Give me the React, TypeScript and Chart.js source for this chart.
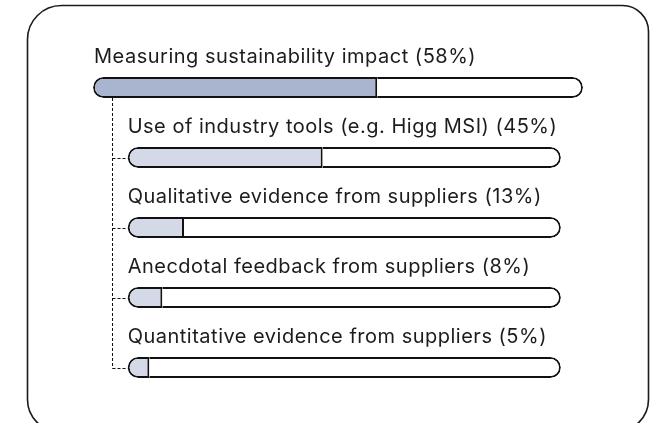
import React, { useEffect, useRef } from "react";
import { Chart, registerables } from "chart.js";

Chart.register(...registerables);

const categories: string[] = [
  "Measuring sustainability impact",
  "Use of industry tools (e.g. Higg MSI)",
  "Qualitative evidence from suppliers",
  "Anecdotal feedback from suppliers",
  "Quantitative evidence from suppliers",
];
const values: number[] = [58, 45, 13, 8, 5];
const isParent: boolean[] = [true, false, false, false, false];

const MAIN_FILL = "#a9b5cf";
const SUB_FILL = "#d3d9e6";
const INK = "#1c1c1c";
const FONT = '20px Inter, "Noto Sans", sans-serif';

const cardPlugin = {
  id: "card",
  beforeDraw(chart: any) {
    const ctx = chart.ctx;
    ctx.save();
    ctx.fillStyle = "#ffffff";
    ctx.fillRect(0, 0, chart.width, chart.height);
    ctx.beginPath();
    (ctx as any).roundRect(27.5, 5.5, 621, 426, [34, 26, 32, 32]);
    ctx.lineWidth = 1.6;
    ctx.strokeStyle = "#1a1a1a";
    ctx.stroke();
    ctx.restore();
  },
};

const treePlugin = {
  id: "tree",
  beforeDatasetsDraw(chart: any) {
    const ctx = chart.ctx;
    const y = chart.scales.y;
    const xm = chart.scales.x;
    const xs = chart.scales.xs;
    const half = 10.5;
    const trunkX = Math.round(xm.getPixelForValue(0) + 19) + 0.5;
    const subStart = xs.getPixelForValue(0);
    const lastIdx = categories.length - 1;
    ctx.save();
    ctx.strokeStyle = "#111";
    ctx.lineWidth = 1;
    ctx.setLineDash([3, 2]);
    ctx.beginPath();
    ctx.moveTo(trunkX, y.getPixelForValue(0) + half);
    ctx.lineTo(trunkX, Math.round(y.getPixelForValue(lastIdx)) + 0.5);
    ctx.stroke();
    for (let i = 1; i < categories.length; i++) {
      const py = Math.round(y.getPixelForValue(i)) + 0.5;
      ctx.beginPath();
      ctx.moveTo(trunkX, py);
      ctx.lineTo(subStart, py);
      ctx.stroke();
    }
    ctx.restore();
  },
};

const labelPlugin = {
  id: "rowLabels",
  afterDatasetsDraw(chart: any) {
    const ctx = chart.ctx;
    const y = chart.scales.y;
    const xm = chart.scales.x;
    const xs = chart.scales.xs;
    ctx.save();
    ctx.font = FONT;
    (ctx as any).letterSpacing = "0.5px";
    ctx.fillStyle = INK;
    ctx.textBaseline = "alphabetic";
    ctx.textAlign = "left";
    categories.forEach((c, i) => {
      const x = isParent[i] ? xm.getPixelForValue(0) + 1 : xs.getPixelForValue(0) + 0;
      const py = y.getPixelForValue(i) - 10.5 - 14;
      ctx.fillText(`${c} (${values[i]}%)`, x, py);
    });
    ctx.restore();
  },
};

export default function App() {
  const ref = useRef<HTMLCanvasElement | null>(null);
  useEffect(() => {
    if (!ref.current) return;
    const mainFilled = values.map((v, i) => (isParent[i] ? [0, v] : null));
    const mainRest = values.map((v, i) => (isParent[i] ? [v, 100] : null));
    const subFilled = values.map((v, i) => (!isParent[i] ? [0, v] : null));
    const subRest = values.map((v, i) => (!isParent[i] ? [v, 100] : null));
    const common = {
      borderColor: "#111111",
      borderSkipped: false,
      barThickness: 21,
      grouped: false,
      inflateAmount: 0,
    };
    const chart = new Chart(ref.current, {
      type: "bar",
      data: {
        labels: categories,
        datasets: [
          {
            ...common,
            data: mainFilled as any,
            xAxisID: "x",
            backgroundColor: MAIN_FILL,
            borderWidth: { left: 2, top: 2, bottom: 2, right: 2 },
            borderRadius: { topLeft: 10.5, bottomLeft: 10.5, topRight: 0, bottomRight: 0 },
          },
          {
            ...common,
            data: mainRest as any,
            xAxisID: "x",
            backgroundColor: "#ffffff",
            borderWidth: { left: 0, top: 2, bottom: 2, right: 2 },
            borderRadius: { topLeft: 0, bottomLeft: 0, topRight: 10.5, bottomRight: 10.5 },
          },
          {
            ...common,
            data: subFilled as any,
            xAxisID: "xs",
            backgroundColor: SUB_FILL,
            borderWidth: { left: 2, top: 2, bottom: 2, right: 2 },
            borderRadius: { topLeft: 10.5, bottomLeft: 10.5, topRight: 0, bottomRight: 0 },
          },
          {
            ...common,
            data: subRest as any,
            xAxisID: "xs",
            backgroundColor: "#ffffff",
            borderWidth: { left: 0, top: 2, bottom: 2, right: 2 },
            borderRadius: { topLeft: 0, bottomLeft: 0, topRight: 10.5, bottomRight: 10.5 },
          },
        ] as any,
      },
      options: {
        indexAxis: "y",
        responsive: false,
        animation: false,
        maintainAspectRatio: false,
        layout: { padding: { left: 93, right: 68, top: 52.5, bottom: 20.5 } },
        plugins: { legend: { display: false }, tooltip: { enabled: false } },
        scales: {
          x: { type: "linear", min: 0, max: 100, display: false },
          xs: { type: "linear", min: -8.0, max: 105.1, display: false },
          y: { type: "category", display: false, offset: true },
        },
      } as any,
      plugins: [cardPlugin, treePlugin, labelPlugin],
    });
    return () => chart.destroy();
  }, []);
  return (
    <div style={{ position: "fixed", left: 0, top: 0, width: 651, height: 423, background: "#fff" }}>
      <canvas ref={ref} width={651} height={423} style={{ display: "block", width: 651, height: 423 }} />
    </div>
  );
}
